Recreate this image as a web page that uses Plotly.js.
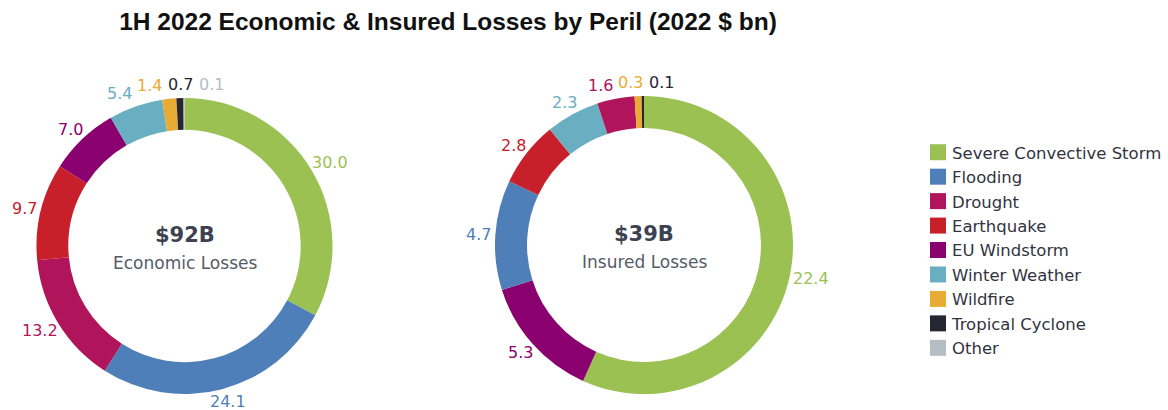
<!DOCTYPE html>
<html>
<head>
<meta charset="utf-8">
<script src="https://cdn.plot.ly/plotly-3.0.1.min.js"></script>
<style>
  html, body { margin: 0; padding: 0; background: #fff; }
  #chart { width: 1168px; height: 410px; }
</style>
</head>
<body>
<div id="chart"></div>
<script>
// ---------------- Data ----------------
const perils = ["Severe Convective Storm", "Flooding", "Drought", "Earthquake", "EU Windstorm",
                "Winter Weather", "Wildfire", "Tropical Cyclone", "Other"];
const perilColors = ["#9BC153", "#4F7FB8", "#B0145A", "#C8202A", "#8A006F",
                     "#6AAEC2", "#E8AC35", "#262633", "#B5BEC3"];
const economicLabels = ["Severe Convective Storm", "Flooding", "Drought", "Earthquake", "EU Windstorm",
                        "Winter Weather", "Wildfire", "Tropical Cyclone", "Other"];
const economicValues = [30.0, 24.1, 13.2, 9.7, 7.0, 5.4, 1.4, 0.7, 0.1];
const insuredLabels = ["Severe Convective Storm", "EU Windstorm", "Flooding", "Earthquake",
                       "Winter Weather", "Drought", "Wildfire", "Tropical Cyclone"];
const insuredValues = [22.4, 5.3, 4.7, 2.8, 2.3, 1.6, 0.3, 0.1];
const economicTotal = "$92B";
const economicCaption = "Economic Losses";
const insuredTotal = "$39B";
const insuredCaption = "Insured Losses";
const titleText = "1H 2022 Economic & Insured Losses by Peril (2022 $ bn)";

// ---------------- Styling / layout ----------------
const W = 1168, H = 410;
const FONT = "'DejaVu Sans', 'Open Sans', sans-serif";
const LABEL_SIZE = 16;
const colorOf = l => perilColors[perils.indexOf(l)];

// donut geometry (pixels)
const donuts = [
  { cx: 184.5, cy: 246, R: 148 },
  { cx: 644,   cy: 245, R: 149 }
];

function domainFor(g) {
  return { x: [(g.cx - g.R) / W, (g.cx + g.R) / W], y: [1 - (g.cy + g.R) / H, 1 - (g.cy - g.R) / H] };
}

function donut(labels, values, g) {
  return {
    type: "pie",
    labels: labels,
    values: values,
    hole: 0.785,
    sort: false,
    direction: "clockwise",
    rotation: 0,
    domain: domainFor(g),
    marker: { colors: labels.map(colorOf), line: { width: 0 } },
    textinfo: "none",
    hoverinfo: "none",
    automargin: false
  };
}

// text measurement
const ctx = document.createElement("canvas").getContext("2d");
function textWidth(t, size) {
  ctx.font = size + "px 'DejaVu Sans'";
  return ctx.measureText(t).width;
}

// value labels placed just outside each slice, derived from the data
function valueLabels(labels, values, g) {
  const total = values.reduce((a, b) => a + b, 0);
  const GAP = 4, PAD = 5;
  let cum = 0;
  const items = values.map((v, i) => {
    const mid = (cum + v / 2) / total * 2 * Math.PI;
    cum += v;
    const s = Math.sin(mid), c = Math.cos(mid);
    const txt = v.toFixed(1);
    const w = textWidth(txt, LABEL_SIZE), h = LABEL_SIZE * 1.15;
    const r = g.R + GAP;
    return { txt, color: colorOf(labels[i]), w, h,
             x: g.cx + r * s + (w / 2) * s,
             y: g.cy - r * c - (h / 2) * c };
  });
  // resolve overlaps horizontally
  for (let it = 0; it < 200; it++) {
    let moved = false;
    const order = items.slice().sort((a, b) => a.x - b.x);
    for (let i = 0; i < order.length; i++) {
      for (let j = i + 1; j < order.length; j++) {
        const a = order[i], b = order[j];
        const need = (a.w + b.w) / 2 + PAD;
        const dx = b.x - a.x;
        if (dx < need && Math.abs(b.y - a.y) < (a.h + b.h) / 2) {
          const sh = (need - dx) / 2 + 0.1;
          a.x -= sh; b.x += sh; moved = true;
        }
      }
    }
    if (!moved) break;
  }
  return items.map(o => ({
    text: o.txt, x: o.x / W, y: 1 - o.y / H, xref: "paper", yref: "paper",
    xanchor: "center", yanchor: "middle", showarrow: false,
    font: { family: FONT, size: LABEL_SIZE, color: o.color }
  }));
}

function centerText(total, caption, g) {
  return [
    { text: "<b>" + total + "</b>", x: g.cx / W, y: 1 - (g.cy - 11) / H, xref: "paper", yref: "paper",
      xanchor: "center", yanchor: "middle", showarrow: false,
      font: { family: FONT, size: 21, color: "#3C4250" } },
    { text: caption, x: g.cx / W, y: 1 - (g.cy + 17) / H, xref: "paper", yref: "paper",
      xanchor: "center", yanchor: "middle", showarrow: false,
      font: { family: FONT, size: 17, color: "#555B66" } }
  ];
}

const traces = [
  donut(economicLabels, economicValues, donuts[0]),
  donut(insuredLabels, insuredValues, donuts[1])
];

const layout = {
  width: W,
  height: H,
  margin: { l: 0, r: 0, t: 0, b: 0 },
  paper_bgcolor: "#ffffff",
  showlegend: true,
  title: {
    text: "<b>" + titleText + "</b>",
    font: { family: "'Liberation Sans', Arial, sans-serif", size: 24.5, color: "#111111" },
    x: 448 / W, xanchor: "center",
    y: 1 - 21 / H, yanchor: "middle", yref: "container"
  },
  legend: {
    x: 912 / W, xanchor: "left",
    y: 1 - 250.5 / H, yanchor: "middle",
    font: { family: FONT, size: 16.5, color: "#333340" },
    traceorder: "normal"
  },
  annotations: [].concat(
    valueLabels(economicLabels, economicValues, donuts[0]),
    valueLabels(insuredLabels, insuredValues, donuts[1]),
    centerText(economicTotal, economicCaption, donuts[0]),
    centerText(insuredTotal, insuredCaption, donuts[1])
  )
};

Plotly.newPlot("chart", traces, layout, { displayModeBar: false, staticPlot: true }).then(() => {
  document.querySelectorAll("#chart .legend path.legendpie").forEach(p => {
    p.setAttribute("d", "M14,8H-2V-8H14Z");
  });
});
</script>
</body>
</html>
